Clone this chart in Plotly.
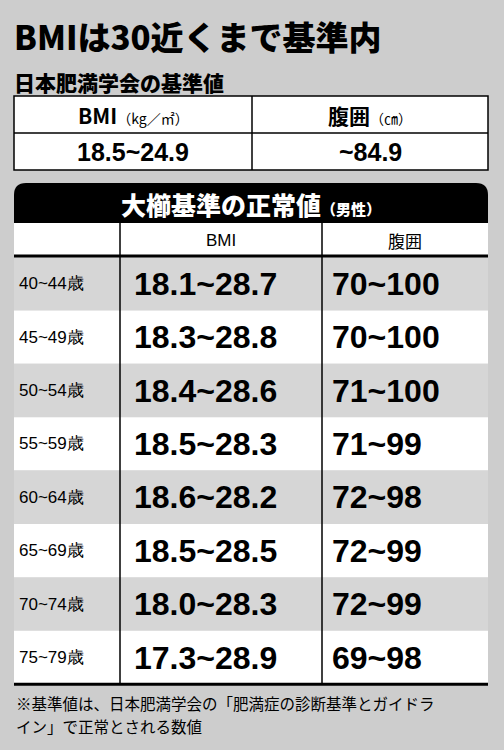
import plotly.graph_objects as go

title = "BMIは30近くまで基準内"
subtitle = "日本肥満学会の基準値"
std_headers = ["BMI", "腹囲"]
std_units = ["（kg／㎡）", "（㎝）"]
std_values = ["18.5~24.9", "~84.9"]

table_title = "大櫛基準の正常値"
table_sub = "（男性）"
col_headers = ["", "BMI", "腹囲"]
ages = ["40~44歳", "45~49歳", "50~54歳", "55~59歳", "60~64歳", "65~69歳", "70~74歳", "75~79歳"]
bmi = ["18.1~28.7", "18.3~28.8", "18.4~28.6", "18.5~28.3", "18.6~28.2", "18.5~28.5", "18.0~28.3", "17.3~28.9"]
waist = ["70~100", "70~100", "71~100", "71~99", "72~98", "72~99", "72~99", "69~98"]
footnote = ["※基準値は、日本肥満学会の「肥満症の診断基準とガイドラ", "イン」で正常とされる数値"]

JP = "Noto Sans CJK JP"
SANS = "Liberation Sans, Arial"
BG = "#cdcdcd"
ROW_GRAY = "#d6d6d6"

fig = go.Figure()
shapes = []
ann = []

def text(x, y, s, size, color="black", font=JP, weight="normal", anchor="left"):
    ann.append(dict(x=x, y=y, text=s, showarrow=False, xanchor=anchor, yanchor="middle",
                    font=dict(family=font, size=size, color=color, weight=weight)))

# title
text(12, 36, title, 33, weight=900)
text(12, 82, subtitle, 21, weight=900)

# standard table
L, R, M = 14, 488, 252
shapes.append(dict(type="rect", x0=L, x1=R, y0=96, y1=170, fillcolor="white", line=dict(color="black", width=1.5)))
shapes.append(dict(type="line", x0=L, x1=R, y0=133, y1=133, line=dict(color="black", width=1.5)))
shapes.append(dict(type="line", x0=M, x1=M, y0=96, y1=170, line=dict(color="black", width=1.5)))
for i, (h, u, v) in enumerate(zip(std_headers, std_units, std_values)):
    cx = (L + M) / 2 if i == 0 else (M + R) / 2
    text(cx, 115, f"<b>{h}</b><span style='font-size:14px;font-weight:normal'>{u}</span>", 21,
         weight=900, anchor="center")
    text(cx, 152, v, 25, font=SANS, weight="bold", anchor="center")

# black header with rounded top
top, bot, r = 183, 223, 12
shapes.append(dict(type="path", fillcolor="black", line=dict(color="black", width=0),
                   path=f"M {L},{bot} L {L},{top+r} Q {L},{top} {L+r},{top} L {R-r},{top} Q {R},{top} {R},{top+r} L {R},{bot} Z"))
text(251, 204, f"{table_title}<span style='font-size:15px'>{table_sub}</span>", 25,
     color="white", weight=900, anchor="center")

# column header row
c1, c2 = 120, 322
shapes.append(dict(type="rect", x0=L, x1=R, y0=bot, y1=256, fillcolor="white", line=dict(width=0)))
text((c1 + c2) / 2, 240, col_headers[1], 17, font=SANS, anchor="center")
text((c2 + R) / 2, 240, col_headers[2], 17, anchor="center")

# data rows
y0, h = 257, 53.4
for i, (a, b, w) in enumerate(zip(ages, bmi, waist)):
    ya = y0 + i * h
    shapes.append(dict(type="rect", x0=L, x1=R, y0=ya, y1=ya + h,
                       fillcolor=ROW_GRAY if i % 2 == 0 else "white", line=dict(width=0)))
    cy = ya + h / 2
    text(L + 3, cy, a, 17, font=SANS)
    text(c1 + 12, cy, b, 32, font=SANS, weight="bold")
    text(c2 + 8, cy, w, 32, font=SANS, weight="bold")
end = y0 + len(ages) * h
shapes.append(dict(type="line", x0=L, x1=R, y0=256, y1=256, line=dict(color="black", width=3)))
shapes.append(dict(type="line", x0=L, x1=R, y0=end, y1=end, line=dict(color="black", width=3)))
for xv in (c1, c2):
    shapes.append(dict(type="line", x0=xv, x1=xv, y0=bot, y1=end, line=dict(color="black", width=1.5)))

for k, line in enumerate(footnote):
    text(14, 703 + k * 23, line, 15.5)

fig.update_layout(width=504, height=750, margin=dict(l=0, r=0, t=0, b=0),
                  paper_bgcolor=BG, plot_bgcolor=BG, shapes=shapes, annotations=ann,
                  xaxis=dict(range=[0, 504], visible=False, fixedrange=True),
                  yaxis=dict(range=[750, 0], visible=False, fixedrange=True),
                  showlegend=False)
for s in fig.layout.shapes:
    s.xref, s.yref = "x", "y"
fig.write_html("out.html", config={"displayModeBar": False},
               post_script="document.body.style.margin='0';document.body.style.overflow='hidden';")
